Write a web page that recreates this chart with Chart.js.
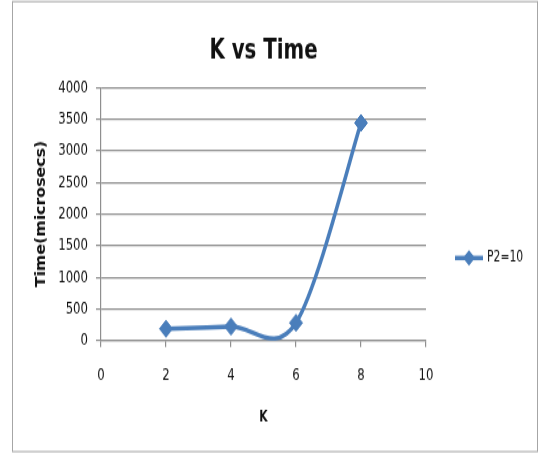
<!DOCTYPE html>
<html>
<head>
<meta charset="utf-8">
<title>K vs Time</title>
<script src="https://cdn.jsdelivr.net/npm/chart.js@4.4.1/dist/chart.umd.min.js"></script>
<style>
  html, body { margin: 0; padding: 0; background: #ffffff; }
  #page { position: relative; width: 540px; height: 454px; }
  /* The chart is drawn on a shorter canvas and stretched to full height */
  #wrap { position: absolute; left: 0; top: 0; width: 540px; height: 349px; transform: scale(1, 1.30086); transform-origin: 0 0; }
  #chart { display: block; width: 540px; height: 349px; }
</style>
</head>
<body>
<div id="page"><div id="wrap"><canvas id="chart" width="540" height="349"></canvas></div></div>
<script>
// Series data
const kValues = [2, 4, 6, 8];
const timeValues = [185, 220, 280, 3440];
const seriesName = 'P2=10';

// Axis ticks
const xTicks = [0, 2, 4, 6, 8, 10];
const yTicks = [0, 500, 1000, 1500, 2000, 2500, 3000, 3500, 4000];

const chartTitle = 'K vs Time';
const xTitle = 'K';
const yTitle = 'Time(microsecs)';

const BLUE = '#4A7EBB';
const GRID = '#8f8f8f';
const TEXT = '#111111';
const FONT = "'DejaVu Sans Condensed', 'Liberation Sans Narrow', 'DejaVu Sans', sans-serif";

Chart.defaults.font.family = FONT;
Chart.defaults.color = TEXT;

// Catmull-Rom style smoothing (control points at 1/6 of the neighbour span)
const smoothLine = {
  id: 'smoothLine',
  beforeDatasetDraw(chart, args) {
    const meta = args.meta;
    const line = meta.dataset;
    const pts = meta.data;
    if (!line || pts.length < 2) return;
    if (typeof line.updateControlPoints === 'function') {
      line.updateControlPoints(chart.chartArea, meta.indexAxis);
    }
    for (let i = 0; i < pts.length; i++) {
      const p = pts[i];
      const prev = pts[i - 1] || p;
      const next = pts[i + 1] || p;
      const dx = (next.x - prev.x) / 6;
      const dy = (next.y - prev.y) / 6;
      p.cp1x = p.x - dx; p.cp1y = p.y - dy;
      p.cp2x = p.x + dx; p.cp2y = p.y + dy;
    }
    line._pointsUpdated = true;
    line._path = undefined;
  }
};

// Frame around the chart and the series key on the right
const frameAndKey = {
  id: 'frameAndKey',
  beforeDraw(chart) {
    const ctx = chart.ctx;
    ctx.save();
    ctx.fillStyle = '#ffffff';
    ctx.fillRect(0, 0, chart.width, chart.height);
    ctx.strokeStyle = '#a6a6a6';
    ctx.lineWidth = 1;
    ctx.strokeRect(12.5, 1.2, 525, 345.9);
    ctx.restore();
  },
  afterDraw(chart) {
    const ctx = chart.ctx;
    const ds = chart.data.datasets[0];
    const y = 198.3;
    ctx.save();
    ctx.strokeStyle = ds.borderColor;
    ctx.lineWidth = ds.borderWidth;
    ctx.beginPath();
    ctx.moveTo(455, y);
    ctx.lineTo(483, y);
    ctx.stroke();
    ctx.fillStyle = ds.backgroundColor;
    ctx.beginPath();
    ctx.moveTo(469, y - 6);
    ctx.lineTo(475, y);
    ctx.lineTo(469, y + 6);
    ctx.lineTo(463, y);
    ctx.closePath();
    ctx.fill();
    ctx.fillStyle = TEXT;
    ctx.font = '12px ' + FONT;
    ctx.textAlign = 'left';
    ctx.textBaseline = 'middle';
    ctx.fillText(ds.label, 487, y);
    ctx.restore();
  }
};

new Chart(document.getElementById('chart'), {
  type: 'line',
  data: {
    datasets: [{
      label: seriesName,
      data: kValues.map((k, i) => ({ x: k, y: timeValues[i] })),
      borderColor: BLUE,
      backgroundColor: BLUE,
      borderWidth: 3.5,
      tension: 0.4,
      fill: false,
      pointStyle: 'rectRot',
      pointRadius: 6.5,
      pointHoverRadius: 6.5,
      pointBorderWidth: 1,
      pointBorderColor: BLUE,
      pointBackgroundColor: BLUE
    }]
  },
  options: {
    responsive: false,
    animation: false,
    events: [],
    layout: { padding: { left: 32.9, right: 114, top: 0, bottom: 21.2 } },
    elements: { line: { capBezierPoints: false } },
    plugins: {
      legend: { display: false },
      tooltip: { enabled: false },
      title: {
        display: true,
        text: chartTitle,
        fullSize: false,
        color: TEXT,
        font: { size: 22, weight: 'bold', family: FONT },
        padding: { top: 25.6, bottom: 15.26 }
      }
    },
    scales: {
      x: {
        type: 'linear',
        min: xTicks[0],
        max: xTicks[xTicks.length - 1],
        afterBuildTicks(scale) { scale.ticks = xTicks.map(v => ({ value: v })); },
        afterFit(scale) { scale.height = 66.05; },
        ticks: { padding: 14.45, color: TEXT, font: { size: 13 }, callback: v => String(v) },
        grid: { drawOnChartArea: false, drawTicks: true, tickLength: 5, color: GRID, lineWidth: 1.2 },
        border: { display: true, color: GRID, width: 1.2 },
        title: { display: true, text: xTitle, color: TEXT, font: { size: 12, weight: 'bold' }, padding: { top: 0, bottom: 0 } }
      },
      y: {
        type: 'linear',
        min: yTicks[0],
        max: yTicks[yTicks.length - 1],
        afterBuildTicks(scale) { scale.ticks = yTicks.map(v => ({ value: v })); },
        afterFit(scale) { scale.width = 68.1; },
        ticks: { padding: 8, color: TEXT, font: { size: 13 }, callback: v => String(v) },
        grid: { drawOnChartArea: true, drawTicks: true, tickLength: 5, color: GRID, lineWidth: 1.2 },
        border: { display: true, color: GRID, width: 1.2 },
        title: { display: true, text: yTitle, color: TEXT, font: { size: 13.5, weight: 'bold' }, padding: { top: 0, bottom: 0 } }
      }
    }
  },
  plugins: [smoothLine, frameAndKey]
});
</script>
</body>
</html>
